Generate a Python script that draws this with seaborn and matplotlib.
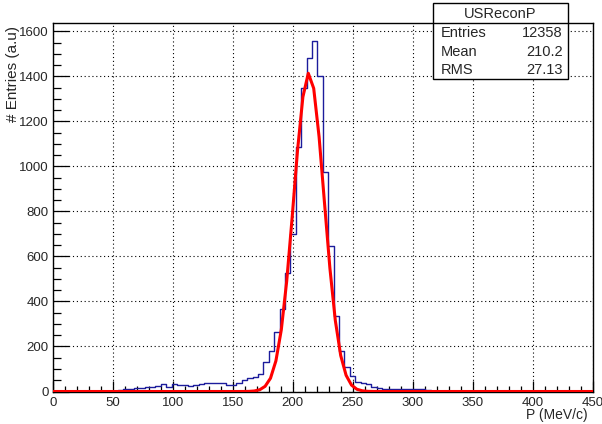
import numpy as np
import pandas as pd
import matplotlib
matplotlib.use("Agg")
import matplotlib.pyplot as plt
from matplotlib.ticker import MultipleLocator
from matplotlib.patches import Rectangle
from matplotlib.lines import Line2D
import seaborn as sns

# ---------------- data ----------------
x_low, x_high, n_bins = 0.0, 450.0, 100
counts = [
    0, 0, 0, 0, 0, 0, 0, 2, 0, 0,
    0, 1, 8, 10, 11, 15, 17, 19, 21, 24,
    34, 22, 32, 28, 27, 24, 30, 35, 37, 36,
    38, 36, 30, 28, 36, 51, 60, 66, 78, 133,
    180, 265, 365, 528, 700, 1087, 1347, 1481, 1559, 1402,
    974, 645, 337, 180, 109, 70, 44, 38, 33, 21,
    14, 13, 12, 12, 11, 10, 10, 9, 9, 8,
    3, 3, 2, 2, 2, 1, 1, 1, 0, 0,
    1, 0, 0, 1, 0, 0, 0, 0, 0, 0,
    0, 0, 0, 0, 0, 0, 0, 0, 0, 0,
]
fit_x = [0, 150, 159, 163.5, 168, 172.5, 177, 181.5, 186, 190.5, 195, 199.5,
         204, 208.5, 213, 217.5, 222, 226.5, 231, 235.5, 240, 244.5, 249,
         253.5, 258, 262.5, 267, 276, 450]
fit_y = [0, 0, 0.1, 0.6, 2.3, 7.7, 23, 59, 136, 274, 490, 771,
         1070, 1309, 1414, 1347, 1131, 838, 548, 316, 160, 72, 28.5,
         9.9, 3.1, 0.8, 0.2, 0, 0]
hist_name = "USReconP"
stat_labels = ["Entries", "Mean", "RMS"]
stat_values = ["12358", "210.2", "27.13"]
x_title = "P (MeV/c)"
y_title = "# Entries (a.u)"

# ---------------- style ----------------
sns.set_style("ticks")
plt.rcParams["font.family"] = ["Liberation Sans", "DejaVu Sans"]

W, H = 602, 424
fig = plt.figure(figsize=(W / 100, H / 100), dpi=100)
fig.patch.set_facecolor("white")

def fx(px):
    return px / W

def fy(py):
    return 1 - py / H

ax_l, ax_r, ax_t, ax_b = 52.7, 592.7, 23.3, 391.5
ax = fig.add_axes([fx(ax_l), fy(ax_b), fx(ax_r - ax_l), (ax_b - ax_t) / H])

edges = [x_low + (x_high - x_low) * i / n_bins for i in range(n_bins + 1)]
centers = [0.5 * (edges[i] + edges[i + 1]) for i in range(n_bins)]
df = pd.DataFrame({"P": centers, "n": counts})

blue = "#1c1c9c"
sns.histplot(data=df, x="P", weights="n", bins=edges, element="step",
             fill=False, color=blue, linewidth=1.0, ax=ax, zorder=3)
fit_df = pd.DataFrame({"P": fit_x, "f": fit_y})
sns.lineplot(data=fit_df, x="P", y="f", color="#ff0000", linewidth=2.2,
             ax=ax, zorder=4)

ax.set_xlim(x_low, x_high)
ax.set_ylim(0, 1636)
ax.set_xlabel("")
ax.set_ylabel("")

ax.xaxis.set_major_locator(MultipleLocator(50))
ax.xaxis.set_minor_locator(MultipleLocator(10))
ax.yaxis.set_major_locator(MultipleLocator(200))
ax.yaxis.set_minor_locator(MultipleLocator(50))
ax.tick_params(axis="both", which="both", direction="in", color="black",
               width=0.9, labelsize=9.5, top=False, right=False)
ax.tick_params(axis="x", which="major", length=8, pad=4)
ax.tick_params(axis="x", which="minor", length=4)
ax.tick_params(axis="y", which="major", length=11.5, pad=3)
ax.tick_params(axis="y", which="minor", length=5.8)

ax.grid(True, which="major", linestyle=(0, (1, 2.5)), color="black",
        linewidth=0.8)
ax.set_axisbelow(True)
for s in ax.spines.values():
    s.set_visible(True)
    s.set_color("black")
    s.set_linewidth(1.0)

# axis titles
fig.text(fx(588), fy(422), x_title, ha="right", va="bottom", fontsize=10)
fig.text(fx(13), fy(26), y_title, ha="center", va="top", rotation=90,
         fontsize=11)

# stats box
bx0, bx1, by0, by1, bdiv = 433.3, 567.7, 3.3, 79.0, 23.3
fig.add_artist(Rectangle((fx(bx0), fy(by1)), fx(bx1 - bx0), (by1 - by0) / H,
                         transform=fig.transFigure, facecolor="white",
                         edgecolor="black", linewidth=1.0, zorder=10))
fig.add_artist(Line2D([fx(bx0), fx(bx1)], [fy(bdiv), fy(bdiv)],
                      transform=fig.transFigure, color="black",
                      linewidth=1.0, zorder=11))
fig.text(fx((bx0 + bx1) / 2), fy(13.5), hist_name, ha="center", va="center",
         fontsize=10.5, zorder=12)
for i, (lab, val) in enumerate(zip(stat_labels, stat_values)):
    yy = fy(32.7 + 18.8 * i)
    fig.text(fx(441), yy, lab, ha="left", va="center", fontsize=10.5, zorder=12)
    fig.text(fx(562.7), yy, val, ha="right", va="center", fontsize=10.5,
             zorder=12)

fig.savefig("out.png", dpi=100)
